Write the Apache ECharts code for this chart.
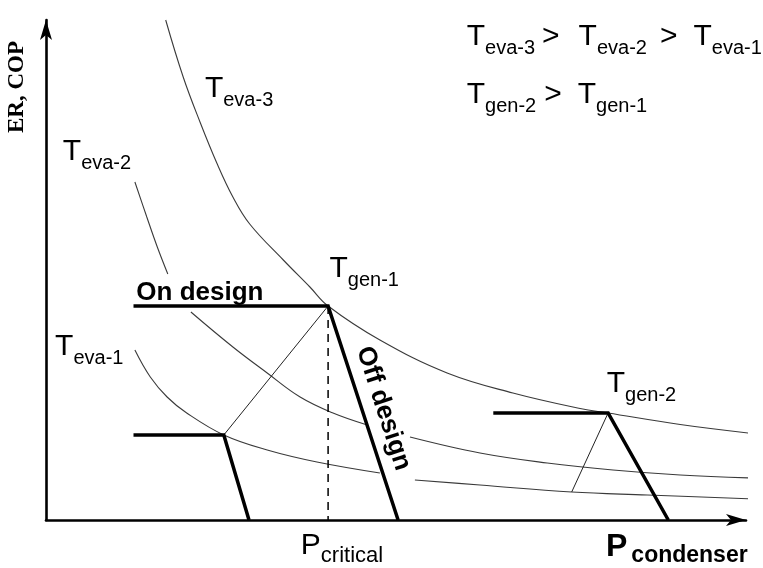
<!DOCTYPE html>
<html>
<head>
<meta charset="utf-8">
<script src="https://cdn.jsdelivr.net/npm/echarts@6/dist/echarts.min.js"></script>
<style>
  html, body { margin: 0; padding: 0; background: #fff; }
  #chart { width: 763px; height: 568px; }
</style>
</head>
<body>
<div id="chart"></div>
<script>
// Condenser pressure (x) against ER / COP (y), both in relative units 0..100.
// A null entry marks where a curve is interrupted by a label.

// Evaporator temperature curves
const tEva3 = [[17.1,100],[19.6,88.6],[22,79.6],[24.4,71.4],[26.7,64.6],[29.1,59.2],[33.9,52],[37.7,46.6],[40.3,42.8],
               [47.7,36],[57.3,29.4],[66.7,25.4],[76.3,22.3],[80.3,21.4],[90.6,19.1],[101,17.3]];
const tEva2 = [[12.7,67.6],[14.4,60.6],[15.9,54.6],[17.4,49.2], null,
               [20.7,41.6],[26.7,34.6],[31.6,29.4],[36.3,24.6],[41,21.4],[45.9,19], null,
               [52,16.6],[62,13.4],[71.6,11.4],[81,10],[90.6,9],[101,8.4]];
const tEva1 = [[12.7,34],[14.9,28.6],[17.3,24.6],[20.1,21.4],[25.4,17],[31.6,14],[38.7,11.6],[47.7,9.4], null,
               [52.7,8],[62,7],[75.1,5.6],[85.9,5],[101,4.2]];

// Operating lines: constant output up to the critical pressure, then the off-design drop
const genLine1 = [[12.5,42.8],[40.3,42.8],[50.3,0]];
const evaLine1 = [[12.5,17],[25.4,17],[29,0]];
const genLine2 = [[63.9,21.4],[80.3,21.4],[88.9,0]];

// Critical pressure marker and the links between design points
const criticalLine = [[40.3,42.8],[40.3,0]];
const link1 = [[25.4,17],[40.3,42.8]];
const link2 = [[80.3,21.4],[75.1,5.6]];

// Text annotations: [text, style] pieces and the top-left anchor in data units
const notes = [
  { parts: [['T','m'],['eva-3','s']], at: [22.7, 89.2] },
  { parts: [['T','m'],['eva-2','s']], at: [2.4, 76.6] },
  { parts: [['T','m'],['eva-1','s']], at: [1.3, 37.6] },
  { parts: [['T','m'],['gen-1','s']], at: [40.5, 53.2] },
  { parts: [['T','m'],['gen-2','s']], at: [80.1, 30.2] },
  { parts: [['T','m'],['eva-3','s'],['>','g1'],['T','m'],['eva-2','s'],['>','g2'],['T','m'],['eva-1','s']], at: [60.1, 99.6] },
  { parts: [['T','m'],['gen-2','s'],['>','g3'],['T','m'],['gen-1','s']], at: [60.1, 88] },
  { parts: [['P','m'],['critical','c']], at: [36.4, -2.2] },
  { parts: [['P','bm'],['condenser','bs']], at: [80, -2.2] }
];
const onDesignAt = [12.9, 48];
const offDesignAt = [48.2, 22.3];
const yTitleAt = [-4.1, 86.6];

const SANS = '"Liberation Sans", Arial, Helvetica, sans-serif';
const SERIF = '"Liberation Serif", "Times New Roman", serif';

function splitOnNull(pts) {
  const out = [[]];
  pts.forEach(p => { if (p === null) out.push([]); else out[out.length - 1].push(p); });
  return out.filter(s => s.length);
}

const curveStyle = { color: '#3a3a3a', width: 1.1 };
const series = [];
[['Teva-3', tEva3], ['Teva-2', tEva2], ['Teva-1', tEva1]].forEach(([name, pts]) => {
  splitOnNull(pts).forEach(seg => series.push({
    name, type: 'line', data: seg, smooth: 0.4, symbol: 'none', clip: false,
    lineStyle: curveStyle, z: 2
  }));
});
[link1, link2].forEach(seg => series.push({
  type: 'line', data: seg, symbol: 'none', clip: false,
  lineStyle: { color: '#222', width: 1 }, z: 2
}));
series.push({
  type: 'line', data: criticalLine, symbol: 'none', clip: false,
  lineStyle: { color: '#000', width: 1.5, type: [8, 6] }, z: 3
});
[genLine1, evaLine1, genLine2].forEach(seg => series.push({
  type: 'line', data: seg, symbol: 'none', clip: false,
  lineStyle: { color: '#000', width: 3.5, join: 'miter' }, z: 4
}));

const axisCommon = {
  type: 'value', min: 0, max: 100,
  axisLine: { show: true, onZero: false, symbol: ['none', 'arrow'], symbolSize: [9, 20],
              lineStyle: { color: '#000', width: 2.6 } },
  axisTick: { show: false }, axisLabel: { show: false }, splitLine: { show: false }
};

const chart = echarts.init(document.getElementById('chart'), null, { renderer: 'canvas' });
chart.setOption({
  animation: false,
  backgroundColor: '#fff',
  grid: { left: 46, right: 17, top: 20, bottom: 48 },
  xAxis: axisCommon,
  yAxis: axisCommon,
  series
});

const SUB_DROP = 8;
const main = { fontSize: 30, lineHeight: 30, verticalAlign: 'top', fontFamily: SANS, color: '#000' };
const rich = {
  m:  main,
  s:  { fontSize: 20, lineHeight: 20, verticalAlign: 'top', fontFamily: SANS, color: '#000', padding: [8 + SUB_DROP, 0, 0, 0] },
  g1: Object.assign({}, main, { padding: [0, 19, 0, 7] }),
  g2: Object.assign({}, main, { padding: [0, 16, 0, 13] }),
  g3: Object.assign({}, main, { padding: [0, 16, 0, 8] }),
  c:  { fontSize: 22, lineHeight: 22, verticalAlign: 'top', fontFamily: SANS, color: '#000', padding: [14, 0, 0, 0] },
  bm: { fontSize: 32, lineHeight: 32, verticalAlign: 'top', fontFamily: SANS, fontWeight: 'bold', color: '#000' },
  bs: { fontSize: 23, lineHeight: 23, verticalAlign: 'top', fontFamily: SANS, fontWeight: 'bold', color: '#000', padding: [13, 0, 0, 4] }
};

const px = p => chart.convertToPixel({ gridIndex: 0 }, p);
const graphics = notes.map(n => {
  const [x, y] = px(n.at);
  return {
    type: 'text', x, y, silent: true,
    style: {
      text: n.parts.map(([t, k]) => '{' + k + '|' + t + '}').join(''),
      rich, align: 'left', verticalAlign: 'top'
    }
  };
});
{
  const [x, y] = px(onDesignAt);
  graphics.push({ type: 'text', x, y, style: {
    text: 'On design', font: 'bold 26px ' + SANS, fill: '#000', align: 'left', verticalAlign: 'top'
  }});
}
{
  const [x, y] = px(offDesignAt);
  graphics.push({ type: 'text', x, y, rotation: -72 * Math.PI / 180, style: {
    text: 'Off design', font: 'bold 26px ' + SANS, fill: '#000', align: 'center', verticalAlign: 'middle'
  }});
}
{
  const [x, y] = px(yTitleAt);
  graphics.push({ type: 'text', x, y, rotation: Math.PI / 2, style: {
    text: 'ER, COP', font: 'bold 23px ' + SERIF, fill: '#000', align: 'center', verticalAlign: 'middle'
  }});
}
chart.setOption({ graphic: graphics });
</script>
</body>
</html>
